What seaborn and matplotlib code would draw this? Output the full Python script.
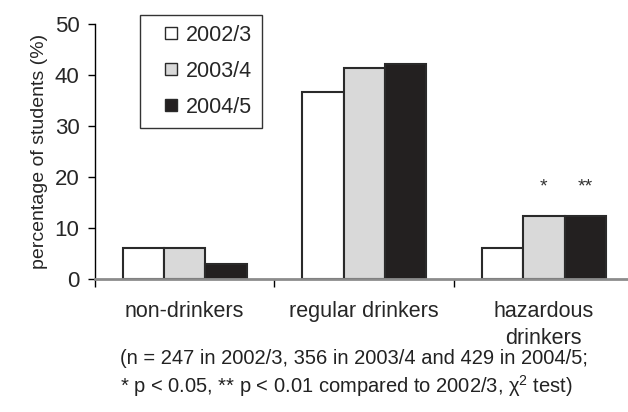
import pandas as pd
import seaborn as sns
import matplotlib.pyplot as plt
from matplotlib.lines import Line2D

# datos
categories = ['non-drinkers', 'regular drinkers', 'hazardous\ndrinkers']
years = ['2002/3', '2003/4', '2004/5']
pct_2002 = [6.0, 36.7, 6.0]
pct_2003 = [6.0, 41.4, 12.3]
pct_2004 = [3.0, 42.1, 12.3]
stars_2003 = ['', '', '*']
stars_2004 = ['', '', '**']
bar_colors = ['white', '#d9d9d9', '#231f20']

df = pd.DataFrame({
    'group': categories * 3,
    'year': [y for y in years for _ in categories],
    'pct': pct_2002 + pct_2003 + pct_2004,
})

sns.set_style('ticks')
plt.rcParams['font.family'] = ['Liberation Sans', 'DejaVu Sans']
plt.rcParams['mathtext.fontset'] = 'custom'
plt.rcParams['mathtext.rm'] = 'Liberation Sans'

fig = plt.figure(figsize=(6.28, 4.12), dpi=100)
ax = fig.add_axes([0.151, 0.3228, 0.858, 0.619])

width = 0.69
sns.barplot(data=df, x='group', y='pct', hue='year', hue_order=years,
            order=categories, palette=bar_colors, width=width,
            edgecolor='#2a2a2a', linewidth=1.5, ax=ax, legend=False)

# asteriscos sobre las barras
bw = width / 3
for i, (s3, s4) in enumerate(zip(stars_2003, stars_2004)):
    if s3:
        ax.text(i, pct_2003[i] + 4.8, s3, ha='center', va='baseline', fontsize=14, color='#333333')
    if s4:
        ax.text(i + bw, pct_2004[i] + 4.8, s4, ha='center', va='baseline', fontsize=14, color='#333333')

ax.set_xlim(-0.5, 2.5)
ax.set_ylim(0, 50)
ax.set_yticks(range(0, 51, 10))
ax.set_xlabel('')
ax.set_ylabel('percentage of students (%)', fontsize=14, labelpad=5)

sns.despine(ax=ax)
ax.spines['left'].set_color('black')
ax.spines['left'].set_linewidth(1)
ax.spines['bottom'].set_color('#8c8c8c')
ax.spines['bottom'].set_linewidth(2)

ax.tick_params(axis='y', direction='out', length=5, width=1, color='black', pad=6, labelsize=16)
ax.tick_params(axis='x', which='major', length=0, pad=16, labelsize=15.5)
for lbl in ax.get_xticklabels():
    lbl.set_linespacing(1.35)
ax.set_xticks([-0.5, 0.5, 1.5, 2.5], minor=True)
ax.tick_params(axis='x', which='minor', direction='out', length=6, width=1, color='black')

handles = [Line2D([], [], marker='s', linestyle='none', markersize=9,
                  markerfacecolor=c, markeredgecolor='#2a2a2a', markeredgewidth=1)
           for c in bar_colors]
leg = fig.legend(handles, years, loc='upper left', bbox_to_anchor=(140 / 628, 1 - 15 / 412),
                 fontsize=15.5, frameon=True, fancybox=False, handlelength=2,
                 handletextpad=-0.3, borderpad=0.45, labelspacing=0.7, borderaxespad=0)
leg.get_frame().set_edgecolor('black')
leg.get_frame().set_linewidth(1)

fig.text(120 / 628, 1 - 359 / 412, '(n = 247 in 2002/3, 356 in 2003/4 and 429 in 2004/5;',
         fontsize=14.5, va='center', color='#222222')
fig.text(120 / 628, 1 - 386 / 412, '* p < 0.05, ** p < 0.01 compared to 2002/3, χ$^2$ test)',
         fontsize=14.5, va='center', color='#222222')

plt.savefig('out.png', dpi=100)
